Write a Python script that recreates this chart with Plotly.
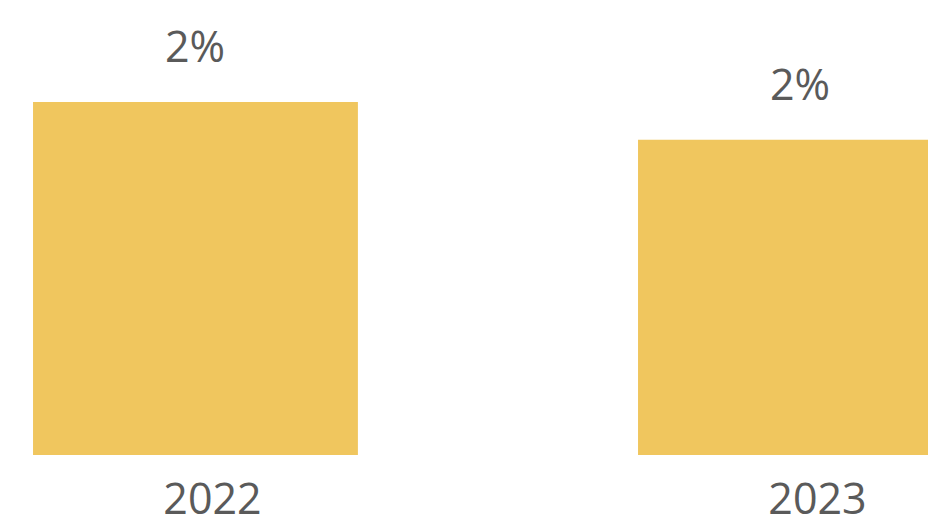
import plotly.graph_objects as go

years = ["2022", "2023"]
shares = [0.0224, 0.0200]
labels = ["2%", "2%"]

BAR_COLOR = "#F0C65E"
TEXT_COLOR = "#5A5A5A"
FONT = "Open Sans"

fig = go.Figure(go.Bar(
    x=years,
    y=shares,
    width=0.537,
    marker=dict(color=BAR_COLOR, line=dict(width=0)),
    hovertemplate="%{x}: %{y:.1%}<extra></extra>",
))

# value labels sit well above the bar tops
for i, (share, label) in enumerate(zip(shares, labels)):
    fig.add_annotation(
        x=i, y=share, text=label, showarrow=False,
        yanchor="bottom", yshift=25,
        font=dict(family=FONT, size=43, color=TEXT_COLOR),
    )

fig.update_layout(
    xaxis=dict(
        type="category",
        range=[-0.3231, 1.2108],
        automargin=False,
        showgrid=False, showline=False, zeroline=False,
        ticks="", ticklabelshift=17, ticklabelstandoff=15,
        tickfont=dict(family=FONT, size=43, color=TEXT_COLOR),
    ),
    yaxis=dict(
        range=[0, 0.02887],
        visible=False,
        automargin=False,
    ),
    showlegend=False,
    paper_bgcolor="white",
    plot_bgcolor="white",
    width=928,
    height=525,
    margin=dict(t=0, b=70, l=0, r=0, autoexpand=False),
)

fig.write_html(
    "out.html",
    config={"displayModeBar": False},
    post_script="document.body.style.margin='0';",
)
